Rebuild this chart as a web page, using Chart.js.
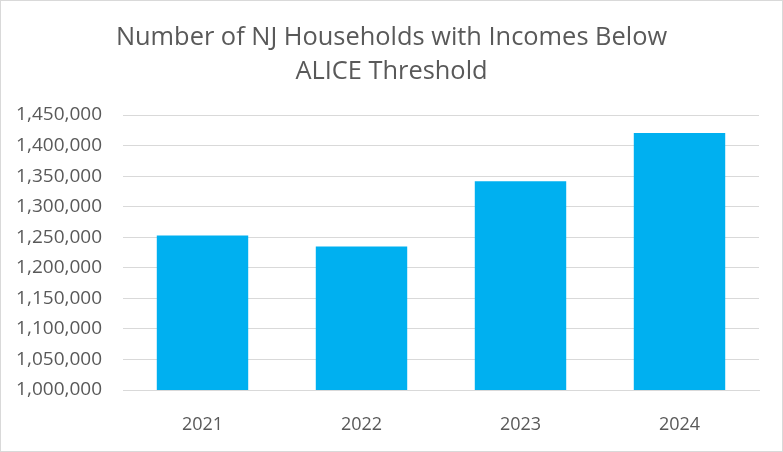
<!DOCTYPE html>
<html>
<head>
<meta charset="utf-8">
<script src="https://cdn.jsdelivr.net/npm/chart.js@4/dist/chart.umd.min.js"></script>
<style>
html,body{margin:0;padding:0;background:#fff;}
#wrap{position:absolute;left:0;top:0;width:781px;height:450px;border:1px solid #d9d9d9;}
</style>
</head>
<body>
<div id="wrap"><canvas id="c" width="781" height="450"></canvas></div>
<script>
const categories = ["2021", "2022", "2023", "2024"];
const households = [1253000, 1234700, 1341500, 1420500];
const titleLines = ["Number of NJ Households with Incomes Below", "ALICE Threshold"];

new Chart(document.getElementById('c'), {
  type: 'bar',
  data: {
    labels: categories,
    datasets: [{
      data: households,
      backgroundColor: '#00b0f0',
      barPercentage: 0.575,
      categoryPercentage: 1.0
    }]
  },
  options: {
    responsive: false,
    animation: false,
    layout: { padding: { left: 0, right: 0, top: 4, bottom: 0 } },
    plugins: {
      legend: { display: false },
      tooltip: { enabled: false },
      title: {
        display: true,
        text: titleLines,
        color: '#595959',
        font: { family: 'Open Sans', size: 25.4, weight: 'normal', lineHeight: 1.34 },
        padding: { top: 16, bottom: 26 }
      }
    },
    scales: {
      x: {
        grid: { display: false, drawTicks: false },
        border: { display: true, color: '#d9d9d9' },
        ticks: { color: '#595959', font: { family: 'Open Sans', size: 18 }, padding: 24 },
        afterFit: s => { s.height = 61; }
      },
      y: {
        min: 1000000,
        max: 1450000,
        border: { display: false },
        grid: { color: '#d9d9d9', drawTicks: false },
        ticks: {
          stepSize: 50000,
          color: '#595959',
          font: { family: 'Open Sans', size: 19 },
          padding: 21,
          callback: v => v.toLocaleString('en-US')
        },
        afterFit: s => { s.width = 122; }
      },
      yRight: {
        position: 'right',
        display: true,
        border: { display: false },
        grid: { display: false, drawTicks: false },
        ticks: { display: false },
        afterFit: s => { s.width = 23; }
      }
    }
  }
});
</script>
</body>
</html>
